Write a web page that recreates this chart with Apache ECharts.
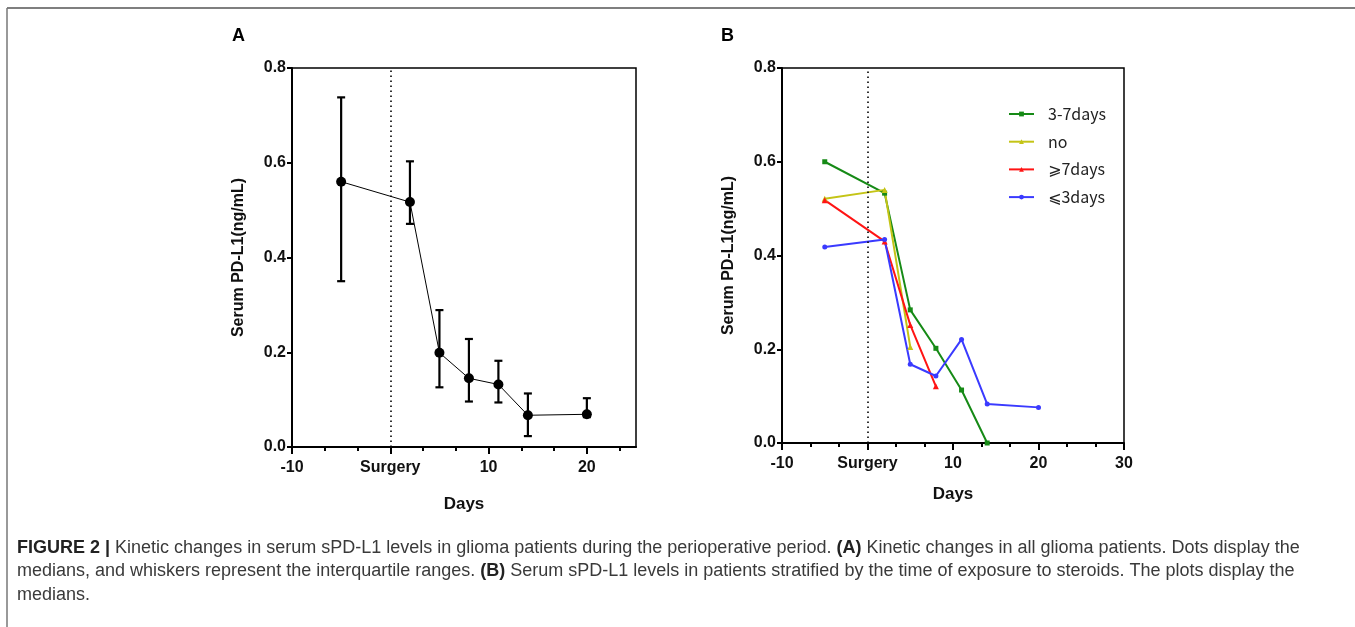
<!DOCTYPE html>
<html>
<head>
<meta charset="utf-8">
<script src="https://cdn.jsdelivr.net/npm/echarts@6/dist/echarts.min.js"></script>
<style>
  html, body { margin: 0; padding: 0; background: #fff; }
  #chart { width: 1355px; height: 627px; }
</style>
</head>
<body>
<div id="chart"></div>
<script>
// panel A: medians and interquartile ranges
const daysA = [-5, 2, 5, 8, 11, 14, 20]
const medianA = [0.56, 0.517, 0.199, 0.145, 0.132, 0.067, 0.069]
const q1A = [0.350, 0.471, 0.126, 0.096, 0.094, 0.023, 0.063]
const q3A = [0.738, 0.603, 0.289, 0.228, 0.182, 0.113, 0.103]

// panel B: medians by steroid exposure
const groupNames = ['3-7days', 'no', '⩾7days', '⩽3days']
const daysGreen = [-5, 2, 5, 8, 11, 14]
const valuesGreen = [0.600, 0.533, 0.284, 0.202, 0.113, 0.0]
const daysYellow = [-5, 2, 5]
const valuesYellow = [0.521, 0.540, 0.205]
const daysRed = [-5, 2, 5, 8]
const valuesRed = [0.518, 0.430, 0.252, 0.121]
const daysBlue = [-5, 2, 5, 8, 11, 14, 20]
const valuesBlue = [0.418, 0.434, 0.168, 0.143, 0.221, 0.083, 0.076]

// x axis ticks
const majorTicksA = [-10, 0, 10, 20]
const minorTicksA = [-6.667, -3.333, 3.333, 6.667, 13.333, 16.667, 23.333]
const majorTicksB = [-10, 0, 10, 20, 30]
const minorTicksB = [-6.667, -3.333, 3.333, 6.667, 13.333, 16.667, 23.333, 26.667]

const BOLD = 'Liberation Sans, Arial, sans-serif'
const pairs = (xs, ys) => xs.map((x, i) => [x, ys[i]])

function xAxisMain(gridIndex, max, majors, nameGap) {
  return {
    type: 'value', gridIndex, min: -10, max, position: 'bottom',
    name: 'Days', nameLocation: 'middle', nameGap,
    nameTextStyle: { color: '#111', fontSize: 17, fontWeight: 'bold', fontFamily: BOLD },
    axisLine: { onZero: false, lineStyle: { color: '#000', width: 2 } },
    axisTick: { customValues: majors, length: 7, lineStyle: { color: '#000', width: 2 } },
    axisLabel: {
      customValues: majors, margin: 13, color: '#111', fontSize: 16, fontWeight: 'bold', fontFamily: BOLD,
      formatter: v => (Math.abs(v) < 1e-9 ? 'Surgery' : String(v)),
    },
    splitLine: { show: false },
  }
}

function xAxisMinor(gridIndex, max, minors) {
  return {
    type: 'value', gridIndex, min: -10, max, position: 'bottom',
    axisLine: { show: false, onZero: false },
    axisTick: { customValues: minors, length: 4, lineStyle: { color: '#000', width: 2 } },
    axisLabel: { show: false },
    splitLine: { show: false },
  }
}

function yAxis(gridIndex) {
  return {
    type: 'value', gridIndex, min: 0, max: 0.8, interval: 0.2,
    name: 'Serum PD-L1(ng/mL)', nameLocation: 'middle', nameGap: 45,
    nameTextStyle: { color: '#111', fontSize: 16, fontWeight: 'bold', fontFamily: BOLD },
    axisLine: { show: true, onZero: false, lineStyle: { color: '#000', width: 2 } },
    axisTick: { show: true, length: 5, lineStyle: { color: '#000', width: 2 } },
    axisLabel: { margin: 6, color: '#111', fontSize: 16, fontWeight: 'bold', fontFamily: BOLD, formatter: v => v.toFixed(1) },
    splitLine: { show: false },
  }
}

const surgeryLine = {
  silent: true,
  symbol: ['none', 'none'],
  label: { show: false },
  lineStyle: { color: '#000', width: 1.6, type: [1.6, 3.4] },
  data: [{ xAxis: 0 }],
}

function groupSeries(name, xs, ys, color, symbol) {
  return {
    name, type: 'line', xAxisIndex: 2, yAxisIndex: 1,
    data: pairs(xs, ys),
    symbol, symbolSize: symbol === 'triangle' ? 6 : 5,
    lineStyle: { color, width: 2 },
    itemStyle: { color },
    animation: false,
  }
}

const caption1 = '{b|FIGURE 2 |}{r| Kinetic changes in serum sPD-L1 levels in glioma patients during the perioperative period. }{b|(A)}{r| Kinetic changes in all glioma patients. Dots display the}'
const caption2 = '{r|medians, and whiskers represent the interquartile ranges. }{b|(B)}{r| Serum sPD-L1 levels in patients stratified by the time of exposure to steroids. The plots display the}'
const caption3 = '{r|medians.}'
const captionRich = {
  b: { fontFamily: 'Liberation Sans, Arial, sans-serif', fontWeight: 'bold', fontSize: 18, fill: '#222' },
  r: { fontFamily: 'Liberation Sans, Arial, sans-serif', fontSize: 18, fill: '#3a3a3a' },
}
const captionLine = (text, y) => ({
  type: 'text', x: 17, y,
  style: { text, rich: captionRich, verticalAlign: 'middle' },
})

const chart = echarts.init(document.getElementById('chart'), null, { renderer: 'canvas' })

chart.setOption({
  animation: false,
  backgroundColor: '#fff',
  grid: [
    { left: 292, top: 68, width: 344, height: 379, show: true, borderColor: '#000', borderWidth: 1.5 },
    { left: 782, top: 68, width: 342, height: 375, show: true, borderColor: '#000', borderWidth: 1.5 },
  ],
  xAxis: [
    xAxisMain(0, 25, majorTicksA, 49),
    xAxisMinor(0, 25, minorTicksA),
    xAxisMain(1, 30, majorTicksB, 43),
    xAxisMinor(1, 30, minorTicksB),
  ],
  yAxis: [yAxis(0), yAxis(1)],
  legend: {
    orient: 'vertical', left: 1003, top: 101,
    itemWidth: 25, itemHeight: 6, itemGap: 11.7,
    data: groupNames,
    textStyle: { color: '#222', fontSize: 16, fontFamily: 'Noto Sans CJK KR, DejaVu Sans, sans-serif', padding: [0, 0, 0, 9] },
  },
  graphic: [
    { type: 'line', shape: { x1: 7, y1: 8, x2: 1355, y2: 8 }, style: { stroke: '#555', lineWidth: 1.5 } },
    { type: 'line', shape: { x1: 7, y1: 8, x2: 7, y2: 627 }, style: { stroke: '#777', lineWidth: 1.5 } },
    { type: 'text', x: 232, y: 36, style: { text: 'A', font: 'bold 18px Liberation Sans, Arial, sans-serif', fill: '#000', verticalAlign: 'middle' } },
    { type: 'text', x: 721, y: 36, style: { text: 'B', font: 'bold 18px Liberation Sans, Arial, sans-serif', fill: '#000', verticalAlign: 'middle' } },
    captionLine(caption1, 548),
    captionLine(caption2, 571),
    captionLine(caption3, 595),
  ],
  series: [
    {
      name: 'IQR', type: 'custom', xAxisIndex: 0, yAxisIndex: 0,
      data: daysA.map((d, i) => [d, q1A[i], q3A[i]]),
      encode: { x: 0, y: [1, 2] },
      renderItem(params, api) {
        const x = api.value(0)
        const lo = api.coord([x, api.value(1)])
        const hi = api.coord([x, api.value(2)])
        const cap = 4
        const style = { stroke: '#000', lineWidth: 2.2 }
        return {
          type: 'group',
          children: [
            { type: 'line', shape: { x1: lo[0], y1: lo[1], x2: hi[0], y2: hi[1] }, style },
            { type: 'line', shape: { x1: hi[0] - cap, y1: hi[1], x2: hi[0] + cap, y2: hi[1] }, style },
            { type: 'line', shape: { x1: lo[0] - cap, y1: lo[1], x2: lo[0] + cap, y2: lo[1] }, style },
          ],
        }
      },
      z: 2,
    },
    {
      name: 'Median', type: 'line', xAxisIndex: 0, yAxisIndex: 0,
      data: pairs(daysA, medianA),
      symbol: 'circle', symbolSize: 10,
      lineStyle: { color: '#000', width: 1 },
      itemStyle: { color: '#000' },
      markLine: surgeryLine,
      z: 3,
    },
    {
      name: 'surgeryB', type: 'line', xAxisIndex: 2, yAxisIndex: 1,
      data: [], markLine: surgeryLine,
    },
    groupSeries(groupNames[0], daysGreen, valuesGreen, '#168a16', 'rect'),
    groupSeries(groupNames[1], daysYellow, valuesYellow, '#c4c416', 'triangle'),
    groupSeries(groupNames[2], daysRed, valuesRed, '#ff1414', 'triangle'),
    groupSeries(groupNames[3], daysBlue, valuesBlue, '#3a3aff', 'circle'),
  ],
})
</script>
</body>
</html>
